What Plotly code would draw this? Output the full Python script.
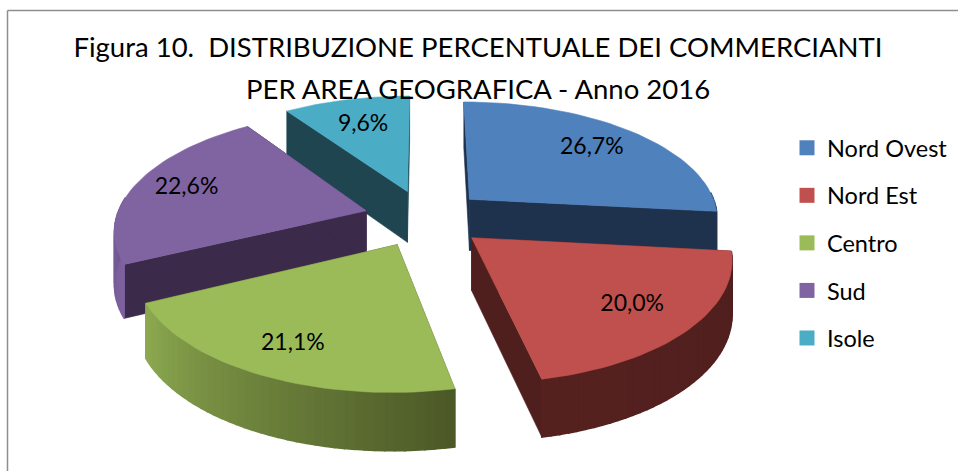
import math
import plotly.graph_objects as go

categories = ["Nord Ovest", "Nord Est", "Centro", "Sud", "Isole"]
values = [26.7, 20.0, 21.1, 22.6, 9.6]
top_colors = ["#4F81BD", "#C0504D", "#9BBB59", "#8064A2", "#4BACC6"]
cut_colors = ["#1F324D", "#4F1F1E", "#4C5927", "#3C2A4A", "#1F4550"]
rim_start = ["#1F324D", "#4F1F1E", "#4C5927", "#7E62A0", "#1F4550"]
rim_end = ["#1F324D", "#55211F", "#8CA950", "#5A4474", "#1F4550"]
label_radii = [0.74, 0.76, 0.79, 0.78, 0.7]
draw_order = [4, 0, 3, 1, 2]

CX, CY, A, B, K, EXPLODE, DEPTH = 425, 218, 250, 117, 0.149, 0.245, 52


def project(x, y, drop=0.0):
    s = 1 / (1 - K * y)
    return CX + A * x * s, CY + B * y * s + drop * DEPTH * (1 + 0.1 * y)


def hex_mix(c1, c2, f):
    a = [int(c1[i:i + 2], 16) for i in (1, 3, 5)]
    b = [int(c2[i:i + 2], 16) for i in (1, 3, 5)]
    return "rgb(%d,%d,%d)" % tuple(round(p + (q - p) * f) for p, q in zip(a, b))


def polygon(pts, color, lw=0.6):
    return go.Scatter(x=[p[0] for p in pts] + [pts[0][0]], y=[p[1] for p in pts] + [pts[0][1]],
                      mode="lines", fill="toself", fillcolor=color,
                      line=dict(color=color, width=lw), hoverinfo="skip", showlegend=False)


total = sum(values)
spans, acc = [], 0.0
for v in values:
    spans.append((acc / total * 2 * math.pi, (acc + v) / total * 2 * math.pi))
    acc += v

fig = go.Figure()
label_x, label_y, label_text = [], [], []
for i in draw_order:
    t0, t1 = spans[i]
    mid = (t0 + t1) / 2
    ox, oy = EXPLODE * math.sin(mid), -EXPLODE * math.cos(mid)
    n = 40
    ts = [t0 + (t1 - t0) * j / n for j in range(n + 1)]
    rim = [(ox + math.sin(t), oy - math.cos(t)) for t in ts]
    # cut faces
    for edge in (rim[0], rim[-1]):
        fig.add_trace(polygon([project(ox, oy), project(*edge), project(*edge, 1), project(ox, oy, 1)], cut_colors[i]))
    # outer rim, shaded segment by segment; the back of the rim is hidden
    for j in range(n):
        if math.cos(ts[j]) > 0.1:
            continue
        fig.add_trace(polygon([project(*rim[j]), project(*rim[j + 1]), project(*rim[j + 1], 1), project(*rim[j], 1)],
                              hex_mix(rim_start[i], rim_end[i], j / (n - 1)), lw=1.5))
    # top face
    fig.add_trace(polygon([project(ox, oy)] + [project(*p) for p in rim], top_colors[i]))
    r = label_radii[i]
    lx, ly = project(ox + r * math.sin(mid), oy - r * math.cos(mid))
    label_x.append(lx)
    label_y.append(ly)
    label_text.append(f"{values[i]:.1f}%".replace(".", ","))

fig.add_trace(go.Scatter(x=label_x, y=label_y, text=label_text, mode="text", textposition="middle center",
                         textfont=dict(family="Lato", size=23, color="#000000"), hoverinfo="skip", showlegend=False))

for name, color in zip(categories, top_colors):
    fig.add_trace(go.Scatter(x=[None], y=[None], mode="markers", name=name, legendgroup=name,
                             marker=dict(symbol="square", size=15, color=color)))

fig.update_layout(
    width=958, height=471, margin=dict(l=0, r=0, t=0, b=0),
    autosize=False, paper_bgcolor="white", plot_bgcolor="white",
    font=dict(family="Lato", color="#000000"),
    title=dict(text="Figura 10.  DISTRIBUZIONE PERCENTUALE DEI COMMERCIANTI", x=478 / 958, xanchor="center",
               y=1 - 47 / 471, yanchor="middle", font=dict(family="Lato", size=27.5, color="#000000")),
    annotations=[dict(text="PER AREA GEOGRAFICA - Anno 2016", x=478, y=88, xref="x", yref="y", showarrow=False,
                      font=dict(family="Lato", size=27.5, color="#000000"))],
    xaxis=dict(range=[0, 958], visible=False, fixedrange=True),
    yaxis=dict(range=[471, 0], visible=False, fixedrange=True),
    legend=dict(x=787 / 958, y=1 - 126 / 471, xanchor="left", yanchor="top", tracegroupgap=14,
                font=dict(family="Lato", size=23.5, color="#000000"), itemwidth=30, bgcolor="rgba(0,0,0,0)"),
    shapes=[
        dict(type="line", xref="x", yref="y", x0=7.5, x1=7.5, y0=10.5, y1=471, line=dict(color="#8E8E8E", width=1.5)),
        dict(type="line", xref="x", yref="y", x0=7.5, x1=958, y0=10.5, y1=10.5, line=dict(color="#8E8E8E", width=1.5)),
    ],
)
fig.write_html("out.html", config={"displayModeBar": False},
               post_script="document.body.style.margin='0';document.body.style.overflow='hidden';")
